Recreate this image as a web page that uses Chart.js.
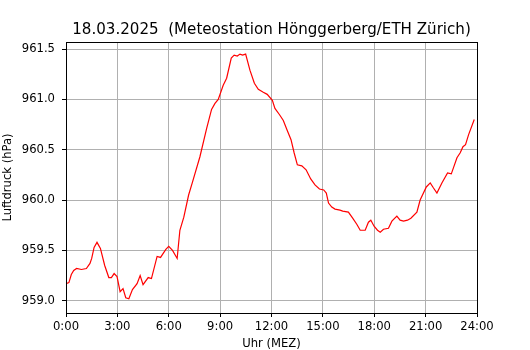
<!DOCTYPE html>
<html>
<head>
<meta charset="utf-8">
<script src="https://cdn.jsdelivr.net/npm/chart.js@4.4.1/dist/chart.umd.min.js"></script>
<style>
  html, body { margin: 0; padding: 0; background: #fff; }
  #wrap { width: 530px; height: 350px; }
</style>
</head>
<body>
<div id="wrap"><canvas id="c" width="530" height="350"></canvas></div>
<script>
const chartTitle = "18.03.2025  (Meteostation Hönggerberg/ETH Zürich)";
const xLabel = "Uhr (MEZ)";
const yLabel = "Luftdruck (hPa)";

// time of day in hours
const hours = [
  0.00, 0.17, 0.31, 0.45, 0.62, 0.90, 1.19, 1.40, 1.50, 1.64, 1.81, 2.01, 2.26, 2.50, 2.65, 2.81, 2.98,
  3.16, 3.33, 3.49, 3.67, 3.88, 4.15, 4.33, 4.50, 4.80, 4.99, 5.32, 5.52, 5.83, 6.00, 6.22, 6.49, 6.65,
  6.88, 7.16, 7.39, 7.82, 8.21, 8.50, 8.70, 8.89, 9.18, 9.38, 9.65, 9.82, 10.00, 10.16, 10.31, 10.49,
  10.74, 11.00, 11.23, 11.52, 11.75, 12.05, 12.20, 12.46, 12.69, 12.92, 13.14, 13.32, 13.51, 13.77,
  14.02, 14.29, 14.54, 14.80, 15.05, 15.20, 15.33, 15.52, 15.71, 16.00, 16.16, 16.49, 16.74, 16.98,
  17.18, 17.47, 17.66, 17.80, 17.99, 18.19, 18.35, 18.54, 18.83, 19.03, 19.32, 19.51, 19.71, 19.94,
  20.14, 20.49, 20.68, 21.04, 21.27, 21.46, 21.66, 21.95, 22.28, 22.50, 22.83, 23.02, 23.18, 23.33,
  23.51, 23.84
];
// pressure in hPa
const pressure = [
  959.17, 959.18, 959.26, 959.30, 959.32, 959.31, 959.32, 959.37, 959.42, 959.53, 959.58, 959.52, 959.35, 959.23, 959.23, 959.27, 959.24,
  959.09, 959.12, 959.03, 959.02, 959.11, 959.17, 959.25, 959.16, 959.23, 959.22, 959.44, 959.43, 959.51, 959.54, 959.50, 959.42, 959.70,
  959.83, 960.05, 960.18, 960.43, 960.71, 960.90, 960.96, 961.00, 961.14, 961.21, 961.41, 961.44, 961.43, 961.45, 961.44, 961.45,
  961.29, 961.16, 961.10, 961.07, 961.05, 960.99, 960.91, 960.85, 960.79, 960.69, 960.60, 960.47, 960.35, 960.34,
  960.30, 960.21, 960.15, 960.11, 960.10, 960.07, 959.97, 959.93, 959.91, 959.90, 959.89, 959.88, 959.82, 959.76,
  959.70, 959.70, 959.78, 959.80, 959.74, 959.70, 959.68, 959.71, 959.72, 959.79, 959.84, 959.80, 959.79, 959.80,
  959.82, 959.88, 960.00, 960.13, 960.17, 960.12, 960.07, 960.17, 960.27, 960.26, 960.42, 960.47, 960.53, 960.55,
  960.65, 960.80
];
const xTicks = [0, 3, 6, 9, 12, 15, 18, 21, 24];
const yTicks = [959.0, 959.5, 960.0, 960.5, 961.0, 961.5];

const FONT = "'DejaVu Sans', sans-serif";

const framePlugin = {
  id: 'frame',
  afterDraw(chart) {
    const a = chart.chartArea, ctx = chart.ctx;
    ctx.save();
    ctx.strokeStyle = '#000';
    ctx.lineWidth = 1;
    ctx.strokeRect(Math.round(a.left) + 0.5, Math.round(a.top) + 0.5,
                   Math.round(a.right - a.left), Math.round(a.bottom - a.top));
    ctx.fillStyle = '#000';
    ctx.font = "15.1px " + FONT;
    ctx.textAlign = 'center';
    ctx.textBaseline = 'alphabetic';
    ctx.fillText(chartTitle, (a.left + a.right) / 2, 34);
    ctx.restore();
  }
};

new Chart(document.getElementById('c'), {
  type: 'line',
  data: {
    datasets: [{
      data: hours.map((h, i) => ({ x: h, y: pressure[i] })),
      borderColor: '#ff0000',
      borderWidth: 1.2,
      pointRadius: 0,
      tension: 0,
      fill: false
    }]
  },
  options: {
    responsive: false,
    animation: false,
    devicePixelRatio: 1,
    layout: { padding: { left: 0, right: 53, top: 42, bottom: 0 } },
    plugins: { legend: { display: false }, tooltip: { enabled: false }, title: { display: false } },
    scales: {
      x: {
        type: 'linear',
        min: 0, max: 24,
        afterFit(s) { s.height = 37; },
        afterBuildTicks(s) { s.ticks = xTicks.map(v => ({ value: v })); },
        ticks: {
          autoSkip: false, maxRotation: 0,
          color: '#000', font: { family: FONT, size: 11.6 }, padding: 3,
          callback: v => v + ':00'
        },
        grid: { color: '#b0b0b0', lineWidth: 1, tickColor: '#000', tickWidth: 1, tickLength: 4 },
        border: { color: '#000', width: 1 },
        title: { display: true, text: xLabel, color: '#000', font: { family: FONT, size: 11.6, lineHeight: 1 }, padding: { top: 0, bottom: 0 } }
      },
      y: {
        type: 'linear',
        min: 958.878, max: 961.57,
        afterFit(s) { s.width = 66; },
        afterBuildTicks(s) { s.ticks = yTicks.map(v => ({ value: v })); },
        ticks: {
          color: '#000', font: { family: FONT, size: 11.6 }, padding: 7,
          callback: v => v.toFixed(1)
        },
        grid: { color: '#b0b0b0', lineWidth: 1, tickColor: '#000', tickWidth: 1, tickLength: 4 },
        border: { color: '#000', width: 1 },
        title: { display: true, text: yLabel, color: '#000', font: { family: FONT, size: 11.6, lineHeight: 1.2 }, padding: { top: 1, bottom: 0 } }
      }
    }
  },
  plugins: [framePlugin]
});
</script>
</body>
</html>
